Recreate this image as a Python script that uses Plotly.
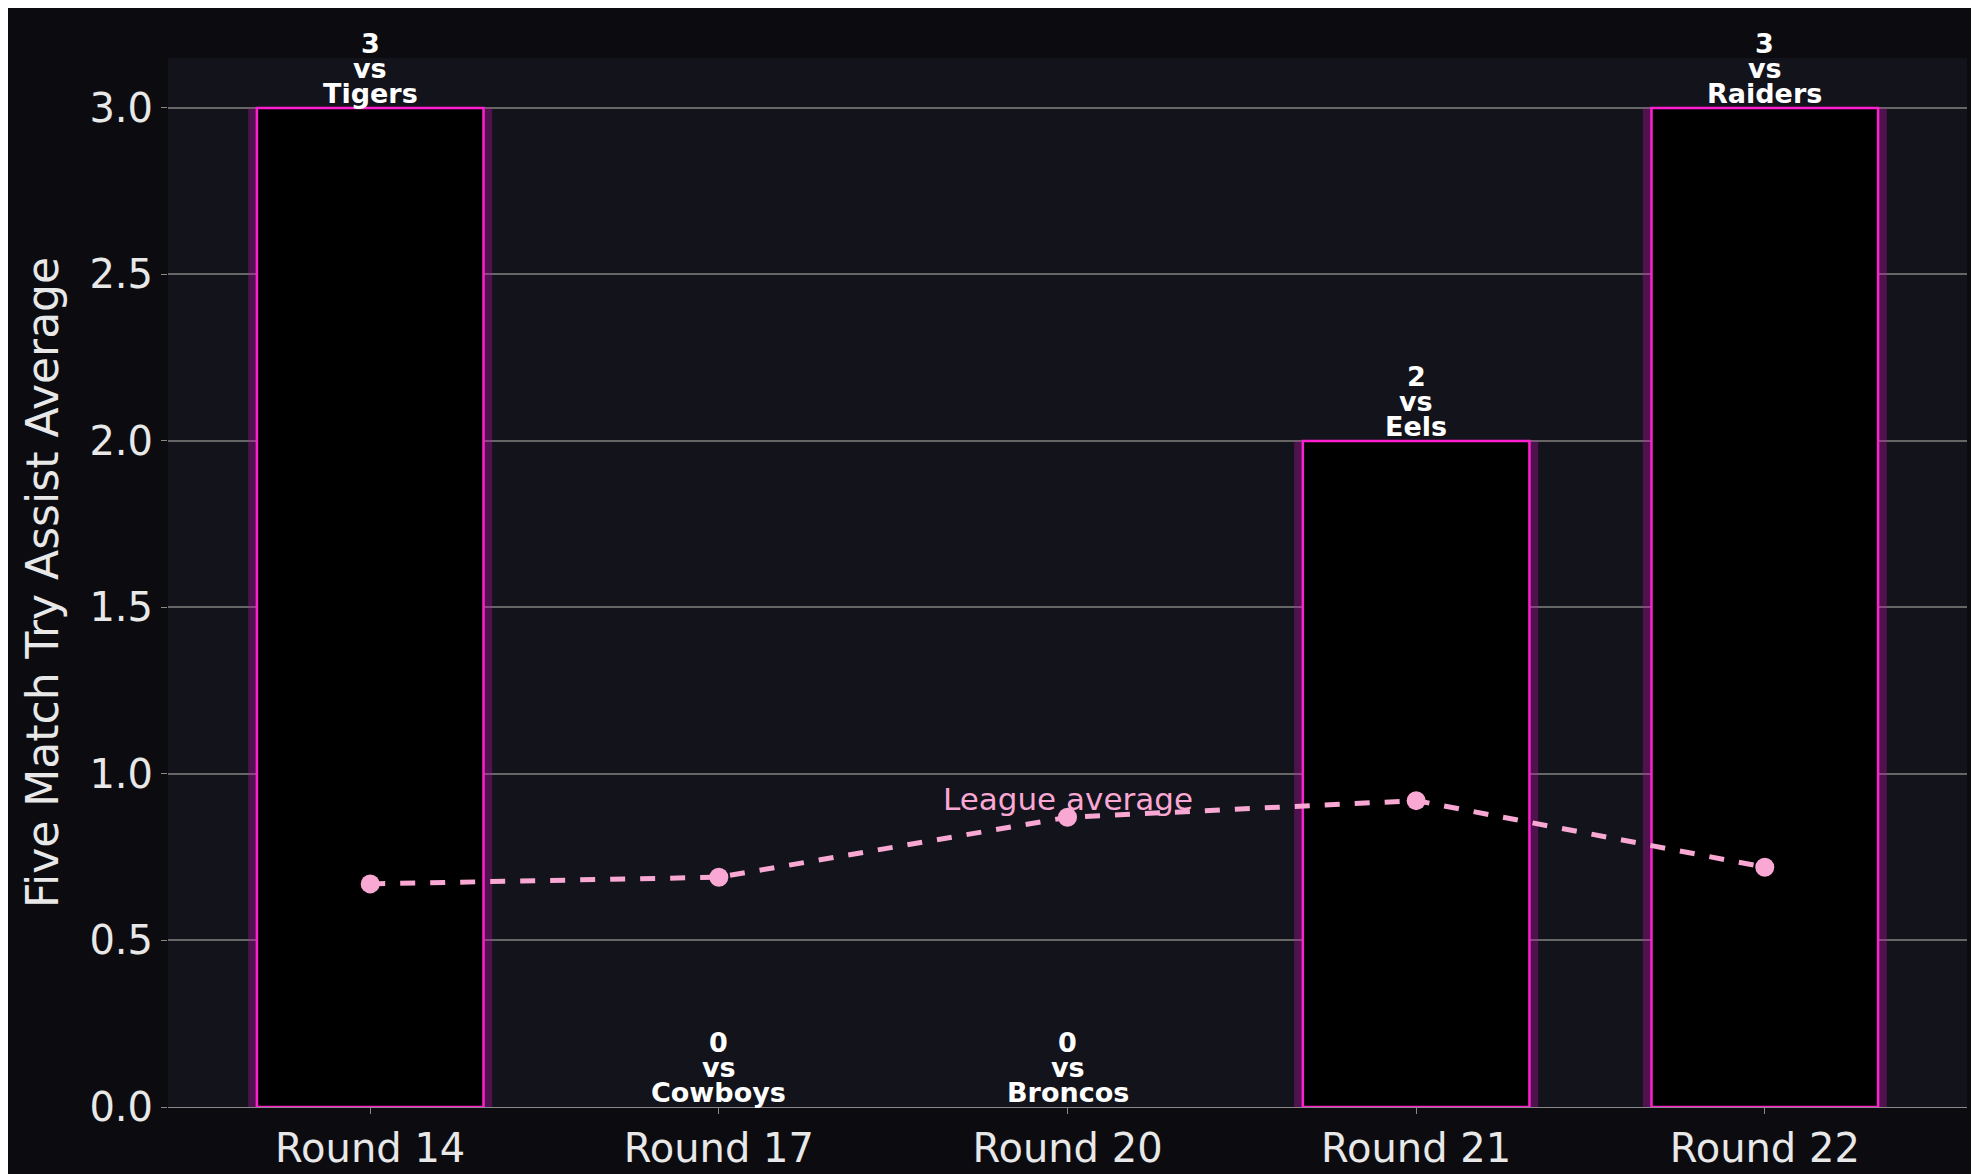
import plotly.graph_objects as go

rounds = ["Round 14", "Round 17", "Round 20", "Round 21", "Round 22"]
tries = [3, 0, 0, 2, 3]
opponents = ["Tigers", "Cowboys", "Broncos", "Eels", "Raiders"]
league_avg = [0.67, 0.69, 0.87, 0.92, 0.72]

edge_w = [2.5 if t > 0 else 0 for t in tries]

fig = go.Figure()
fig.add_trace(go.Bar(x=rounds, y=tries, width=0.7, marker=dict(color="rgba(190,20,170,0.35)", line=dict(width=0)),
                     hoverinfo="skip", showlegend=False))
fig.add_trace(go.Bar(x=rounds, y=tries, width=0.65, marker=dict(color="#000000", line=dict(color="#ff1fd0", width=edge_w)),
                     showlegend=False))
fig.add_trace(go.Scatter(x=rounds, y=league_avg, mode="lines+markers",
                         line=dict(color="#f9a8d4", width=5, dash="dash"),
                         marker=dict(size=19, color="#f9a8d4"), showlegend=False))

for r, t, o in zip(rounds, tries, opponents):
    for i, line in enumerate([o, "vs", str(t)]):
        fig.add_annotation(x=r, y=t, text=f"<b>{line}</b>", showarrow=False, yanchor="bottom",
                           yshift=-3 + i * 25, font=dict(family="DejaVu Sans", size=27, color="white"))
fig.add_annotation(x=rounds[2], y=league_avg[2], text="League average", showarrow=False, yanchor="bottom",
                   yshift=-2, font=dict(family="DejaVu Sans", size=31, color="#f9a8d4"))

fig.update_layout(
    width=1979, height=1174, barmode="overlay",
    paper_bgcolor="#0c0c10", plot_bgcolor="#13131b",
    margin=dict(l=160, r=20, t=50, b=75),
    font=dict(family="DejaVu Sans", color="#e8e8e8"),
    yaxis=dict(range=[0, 3.15], dtick=0.5, tickformat=".1f", gridcolor="#666", gridwidth=1.5,
               zeroline=False, tickfont=dict(size=40), ticks="outside", ticklen=6, tickcolor="#888",
               title=dict(text="Five Match Try Assist Average", font=dict(size=44), standoff=16),
               showline=False),
    xaxis=dict(range=[-0.58, 4.58], tickfont=dict(size=40), showgrid=False, showline=True, linecolor="#888",
               ticks="outside", ticklen=6, tickcolor="#888"),
)
fig.write_html("out.html")
